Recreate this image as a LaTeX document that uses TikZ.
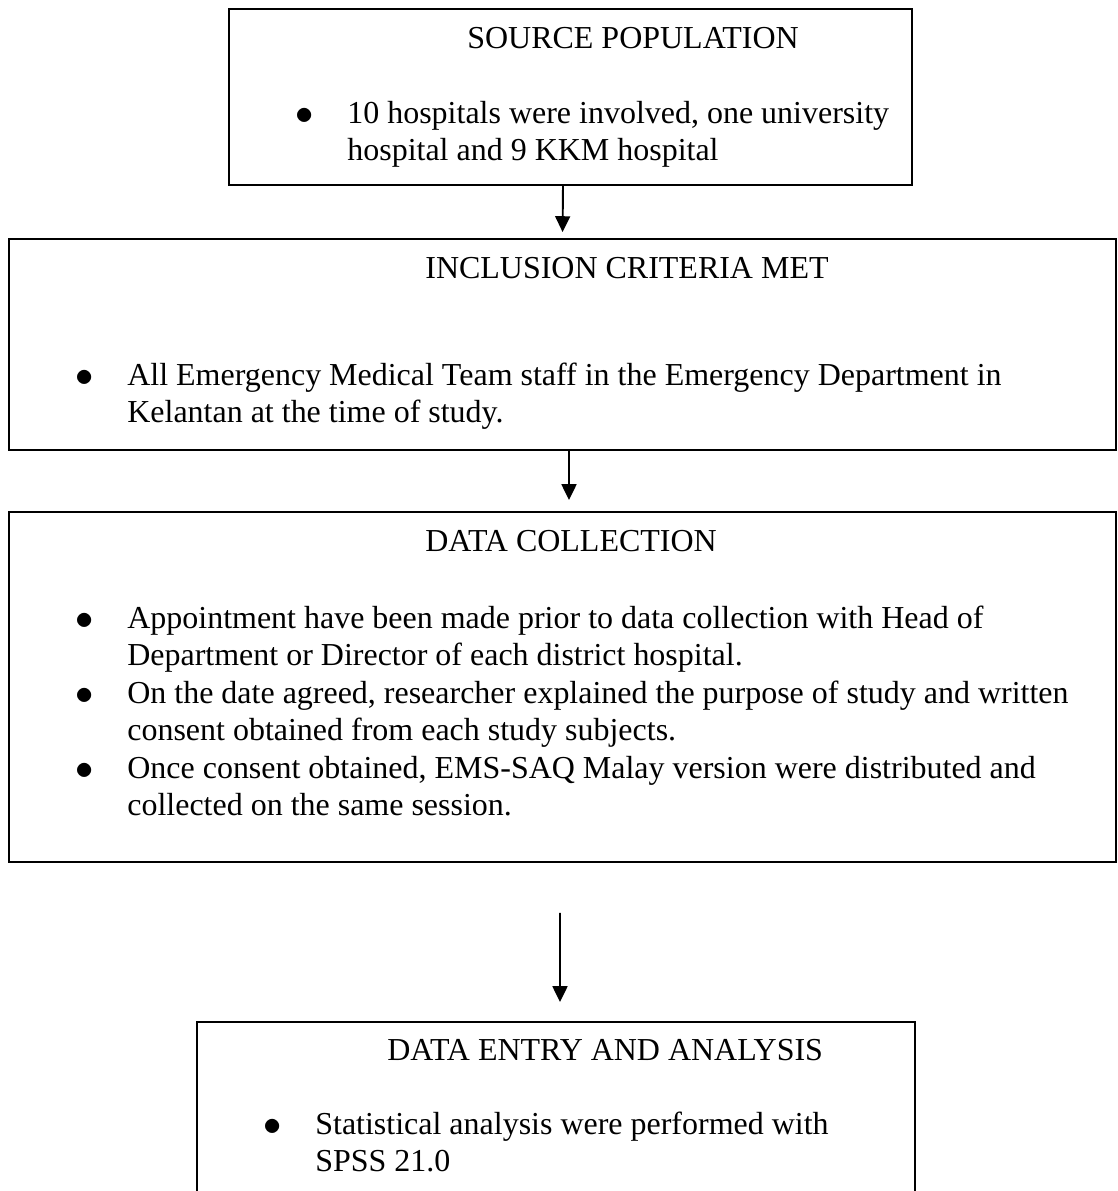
\documentclass[tikz,border=0pt]{standalone}
\usepackage{fontspec}
\setmainfont{Liberation Serif}
\usetikzlibrary{arrows.meta, fit}

\begin{document}
\begin{tikzpicture}[x=0.02cm, y=-0.02cm,
    box/.style={draw, line width=1.1pt, inner sep=0pt},
    txt/.style={anchor=base west, inner sep=0pt, font=\fontsize{18.2}{21}\selectfont},
    dot/.style={anchor=base, inner sep=0pt, font=\fontsize{22}{24}\selectfont},
    arr/.style={line width=1.1pt, -{Triangle[length=9pt, width=8.5pt]}}]

    %% ------
    %% All coordinates are in pixels of the page,
    %% y grows downwards. Boxes are fitted round
    %% their corners, the lines are set one by one.
    %% ----
    \useasboundingbox (0,0) rectangle (1117,1191);

    % source population
    \node[box, fit={(229,9) (912,185)}] (src) {};
    \node[txt] (srcT) at (467,48) {SOURCE POPULATION};
    \node[dot] (srcB) at (305,124) {$\bullet$};
    \node[txt] (src1) at (347,123) {10 hospitals were involved, one university};
    \node[txt] (src2) at (347,160) {hospital and 9 KKM hospital};

    % inclusion criteria
    \node[box, fit={(9,239) (1116,450)}] (inc) {};
    \node[txt] (incT) at (425,278) {INCLUSION CRITERIA MET};
    \node[dot] (incB) at (85,386) {$\bullet$};
    \node[txt] (inc1) at (127,385) {All Emergency Medical Team staff in the Emergency Department in};
    \node[txt] (inc2) at (127,422) {Kelantan at the time of study.};
    \draw[arr, shorten >=0.12cm] ([xshift=-0.15cm]src.south) -- (inc.north);

    % data collection
    \node[box, fit={(9,512) (1116,862)}] (col) {};
    \node[txt] (colT) at (425,551) {DATA COLLECTION};
    \node[dot] (colB1) at (85,629) {$\bullet$};
    \node[txt] (col1a) at (127,628) {Appointment have been made prior to data collection with Head of};
    \node[txt] (col1b) at (127,665) {Department or Director of each district hospital.};
    \node[dot] (colB2) at (85,704) {$\bullet$};
    \node[txt] (col2a) at (127,703) {On the date agreed, researcher explained the purpose of study and written};
    \node[txt] (col2b) at (127,740) {consent obtained from each study subjects.};
    \node[dot] (colB3) at (85,779) {$\bullet$};
    \node[txt] (col3a) at (127,778) {Once consent obtained, EMS-SAQ Malay version were distributed and};
    \node[txt] (col3b) at (127,815) {collected on the same session.};
    \draw[arr, shorten >=0.22cm] ([xshift=0.13cm]inc.south) -- ([xshift=0.13cm]col.north);

    % data entry and analysis (box runs on below the page)
    \node[box, fit={(197,1022) (915,1230)}] (ana) {};
    \node[txt] (anaT) at (387,1060) {DATA ENTRY AND ANALYSIS};
    \node[dot] (anaB) at (273,1135) {$\bullet$};
    \node[txt] (ana1a) at (315,1134) {Statistical analysis were performed with};
    \node[txt] (ana1b) at (315,1171) {SPSS 21.0};
    \draw[arr, shorten <=1cm, shorten >=0.38cm] ([xshift=-0.05cm]col.south) -- ([xshift=0.08cm]ana.north);

\end{tikzpicture}
\end{document}
